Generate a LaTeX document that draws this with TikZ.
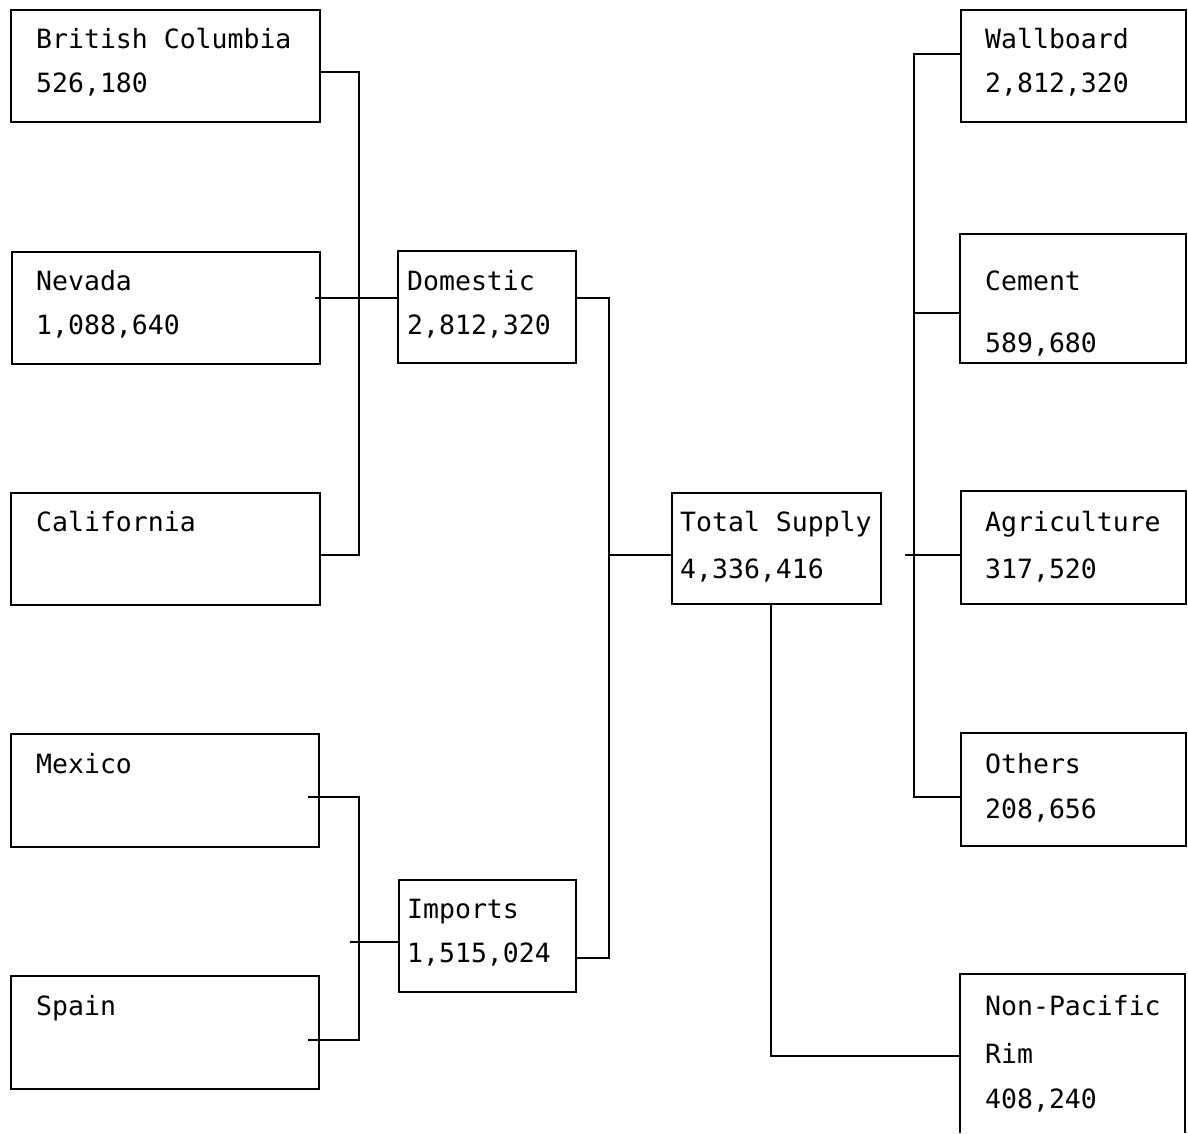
\documentclass[tikz,border=0pt]{standalone}
\usepackage{fontspec}
\setmonofont{DejaVu Sans Mono}
\usetikzlibrary{calc}
\tikzset{
  box/.style={draw, line width=1.8pt, rectangle, anchor=north west, inner sep=0pt, minimum width=#1},
  lbl/.style={anchor=base west, inner sep=0pt, font=\ttfamily\fontsize{26.5}{30}\selectfont},
  conn/.style={line width=1.8pt}
}
\begin{document}
\begin{tikzpicture}[x=1pt,y=-1pt]
\useasboundingbox (0,0) rectangle (1188,1133);
% boxes (left column)
\node[box=309pt, minimum height=112pt] (bc) at (10,9) {};
\node[box=308pt, minimum height=112pt] (nv) at (11,251) {};
\node[box=309pt, minimum height=112pt] (ca) at (10,492) {};
\node[box=308pt, minimum height=113pt] (mx) at (10,733) {};
\node[box=308pt, minimum height=113pt] (sp) at (10,975) {};
% middle
\node[box=178pt, minimum height=112pt] (dom) at (397,250) {};
\node[box=177pt, minimum height=112pt] (imp) at (398,879) {};
\node[box=209pt, minimum height=111pt] (tot) at (671,492) {};
% right column
\node[box=225pt, minimum height=112pt] (wb) at (960,9) {};
\node[box=226pt, minimum height=129pt] (ce) at (959,233) {};
\node[box=225pt, minimum height=113pt] (ag) at (960,490) {};
\node[box=225pt, minimum height=113pt] (ot) at (960,732) {};
\coordinate (npnw) at (960,974);
\coordinate (npsw) at (960,1133);
\coordinate (npne) at (1185,974);
\coordinate (npse) at (1185,1133);
\draw[conn] (npsw) -- (npnw) -- (npne) -- (npse);

% labels
\node[lbl] (t1) at (36,48) {British Columbia};
\node[lbl] (t2) at (36,92) {526,180};
\node[lbl] (t3) at (36,290) {Nevada};
\node[lbl] (t4) at (36,334) {1,088,640};
\node[lbl] (t5) at (36,531) {California};
\node[lbl] (t6) at (36,773) {Mexico};
\node[lbl] (t7) at (36,1015) {Spain};
\node[lbl] (t8) at (407,290) {Domestic};
\node[lbl] (t9) at (407,334) {2,812,320};
\node[lbl] (t10) at (407,918) {Imports};
\node[lbl] (t11) at (407,962) {1,515,024};
\node[lbl] (t12) at (680,531) {Total Supply};
\node[lbl] (t13) at (680,578) {4,336,416};
\node[lbl] (t14) at (985,48) {Wallboard};
\node[lbl] (t15) at (985,92) {2,812,320};
\node[lbl] (t16) at (985,290) {Cement};
\node[lbl] (t17) at (985,352) {589,680};
\node[lbl] (t18) at (985,531) {Agriculture};
\node[lbl] (t19) at (985,578) {317,520};
\node[lbl] (t20) at (985,773) {Others};
\node[lbl] (t21) at (985,818) {208,656};
\node[lbl] (t22) at (985,1015) {Non-Pacific};
\node[lbl] (t23) at (985,1063) {Rim};
\node[lbl] (t24) at (985,1108) {408,240};

% connectors: domestic sources
\coordinate (j1) at (359,72);
\coordinate (j2) at (359,555);
\draw[conn] (bc.east |- j1) -- (j1) -- (j2) -- (ca.east |- j2);
\coordinate (nvout) at (315,298);
\draw[conn] (nvout) -- (dom.west |- nvout);
% imports sources
\coordinate (k1a) at (308,797);
\coordinate (k1) at (359,797);
\coordinate (k2) at (359,1040);
\coordinate (k2a) at (308,1040);
\draw[conn] (k1a) -- (k1) -- (k2) -- (k2a);
\coordinate (impin) at (350,942);
\draw[conn] (impin) -- (imp.west |- impin);
% to total supply
\coordinate (m1) at (609,298);
\coordinate (m2) at (609,958);
\coordinate (m3) at (609,555);
\draw[conn] (dom.east |- m1) -- (m1) -- (m2) -- (imp.east |- m2);
\draw[conn] (m3) -- (tot.west |- m3);
% total supply to non-pacific rim
\coordinate (n1) at (771,1056);
\draw[conn] (tot.south -| n1) -- (n1) -- (npnw |- n1);
% right side uses
\coordinate (r1) at (914,54);
\coordinate (r2) at (914,797);
\draw[conn] (wb.west |- r1) -- (r1) -- (r2) -- (ot.west |- r2);
\coordinate (r3) at (914,313);
\draw[conn] (r3) -- (ce.west |- r3);
\coordinate (r4) at (905,555);
\draw[conn] (r4) -- (ag.west |- r4);
\end{tikzpicture}
\end{document}
